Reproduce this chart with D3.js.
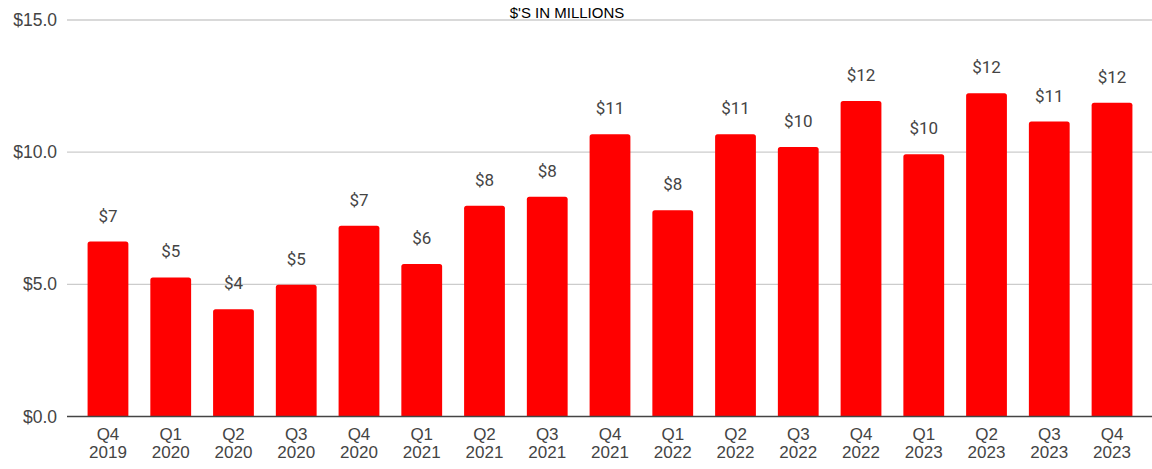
<!DOCTYPE html>
<html>
<head>
<meta charset="utf-8">
<script src="https://cdn.jsdelivr.net/npm/d3@7"></script>
<style>
  html, body { margin: 0; padding: 0; background: #fff; }
  svg { display: block; }
</style>
</head>
<body>
<svg id="chart" width="1152" height="469"></svg>
<script>
// Quarterly revenue, $ in millions
const quarters = ["Q4", "Q1", "Q2", "Q3", "Q4", "Q1", "Q2", "Q3", "Q4", "Q1", "Q2", "Q3", "Q4", "Q1", "Q2", "Q3", "Q4"];
const years    = ["2019", "2020", "2020", "2020", "2020", "2021", "2021", "2021", "2021", "2022", "2022", "2022", "2022", "2023", "2023", "2023", "2023"];
const revenue  = [6.62, 5.26, 4.06, 4.98, 7.22, 5.77, 7.97, 8.31, 10.68, 7.80, 10.68, 10.20, 11.94, 9.92, 12.23, 11.16, 11.87];
const yTicks   = [0, 5, 10, 15];
const title    = "$'S IN MILLIONS";

const W = 1152, H = 469;
const gridLeft = 67, gridRight = W;

const svg = d3.select("#chart");
const keys = quarters.map((q, i) => q + " " + years[i]);

const x = d3.scaleBand()
  .domain(keys)
  .range([76.6, 1143.4])
  .paddingInner(0.35)
  .paddingOuter(0.175);

const y = d3.scaleLinear()
  .domain([0, 15])
  .range([416.5, 20]);

const fmtAxis = v => "$" + d3.format(".1f")(v);
const fmtBar = v => "$" + d3.format(".0f")(v);

// Horizontal gridlines and y labels
const yAxis = svg.append("g").attr("class", "y-axis");
yAxis.selectAll("line")
  .data(yTicks.filter(t => t !== 0))
  .join("line")
  .attr("x1", gridLeft).attr("x2", gridRight)
  .attr("y1", d => y(d)).attr("y2", d => y(d))
  .attr("stroke", "#cccccc")
  .attr("stroke-width", 1.3);

yAxis.selectAll("text")
  .data(yTicks)
  .join("text")
  .attr("x", 57)
  .attr("y", d => y(d))
  .attr("dy", "0.35em")
  .attr("text-anchor", "end")
  .attr("font-family", "'Liberation Sans', Arial, sans-serif")
  .attr("font-size", 17.5)
  .attr("fill", "#444")
  .text(fmtAxis);

// Bars with slightly rounded top corners
const r = 2.5;
function barPath(d, i) {
  const x0 = x(keys[i]), w = x.bandwidth();
  const y0 = y(d), yb = y(0);
  return `M${x0},${yb}V${y0 + r}Q${x0},${y0} ${x0 + r},${y0}H${x0 + w - r}Q${x0 + w},${y0} ${x0 + w},${y0 + r}V${yb}Z`;
}
svg.append("g").attr("class", "bars")
  .selectAll("path")
  .data(revenue)
  .join("path")
  .attr("d", barPath)
  .attr("fill", "#ff0000");

// Value labels above bars
svg.append("g").attr("class", "labels")
  .selectAll("text")
  .data(revenue)
  .join("text")
  .attr("x", (d, i) => x(keys[i]) + x.bandwidth() / 2)
  .attr("y", d => y(d) - 20)
  .attr("text-anchor", "middle")
  .attr("font-family", "Roboto, 'Noto Sans', sans-serif")
  .attr("font-size", 17)
  .attr("fill", "#444")
  .text(fmtBar);

// Baseline
svg.append("line")
  .attr("x1", gridLeft).attr("x2", gridRight)
  .attr("y1", y(0)).attr("y2", y(0))
  .attr("stroke", "#444")
  .attr("stroke-width", 1.5);

// Category labels (quarter over year)
const xl = svg.append("g").attr("class", "x-axis")
  .selectAll("text")
  .data(keys)
  .join("text")
  .attr("x", d => x(d) + x.bandwidth() / 2)
  .attr("text-anchor", "middle")
  .attr("font-family", "'Liberation Sans', Arial, sans-serif")
  .attr("font-size", 17)
  .attr("fill", "#444");
xl.append("tspan").attr("x", d => x(d) + x.bandwidth() / 2).attr("y", 440).text((d, i) => quarters[i]);
xl.append("tspan").attr("x", d => x(d) + x.bandwidth() / 2).attr("y", 458).text((d, i) => years[i]);

// Title
svg.append("text")
  .attr("x", 567)
  .attr("y", 18)
  .attr("text-anchor", "middle")
  .attr("font-family", "'Liberation Sans', Arial, sans-serif")
  .attr("font-size", 15)
  .attr("fill", "#000")
  .text(title);
</script>
</body>
</html>
